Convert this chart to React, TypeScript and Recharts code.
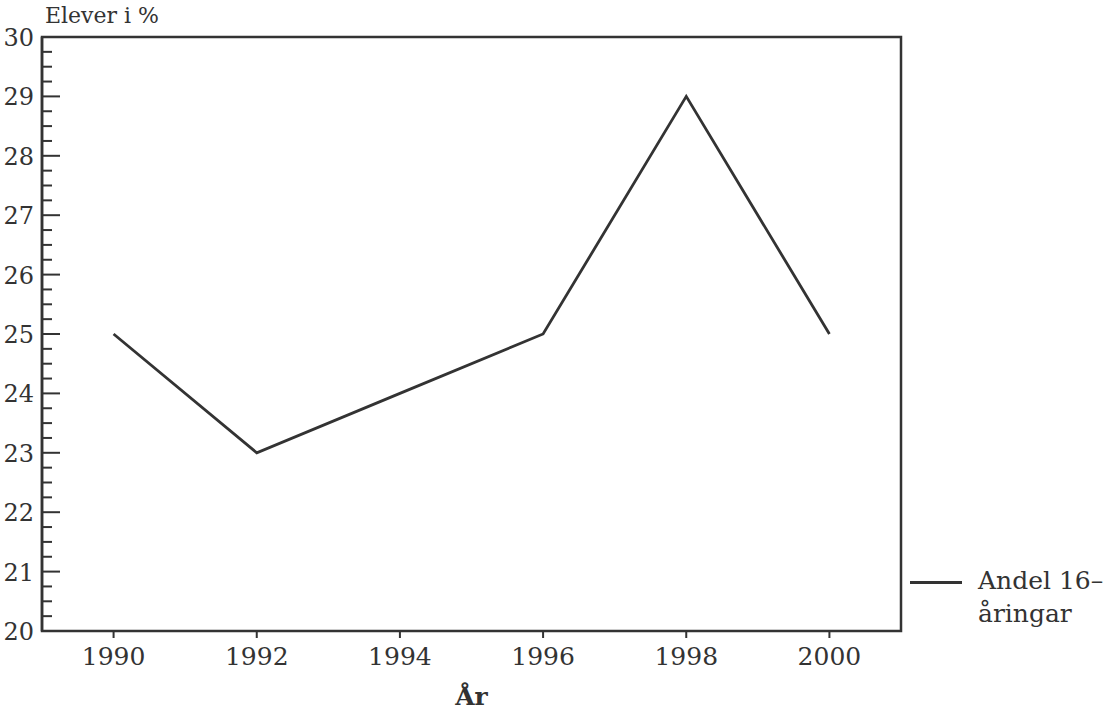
import { LineChart, Line, XAxis, YAxis, ReferenceArea } from "recharts";

const years = [1990, 1992, 1994, 1996, 1998, 2000];
const andel = [25, 23, 24, 25, 29, 25];
const yTicks = [20, 21, 22, 23, 24, 25, 26, 27, 28, 29, 30];
const seriesName = "Andel 16–åringar";

const data = years.map((y, i) => ({ year: y, andel: andel[i] }));

// quarter steps between the whole-number ticks
const allYTicks: number[] = [];
for (let v = 20; v <= 30; v += 0.25) allYTicks.push(v);

const FONT = "'DejaVu Serif', serif";
const INK = "#333";

function YTick(props: any) {
  const { x, y, payload } = props;
  const axisX = x + 8;
  const major = Number.isInteger(payload.value);
  return (
    <g>
      <line x1={axisX} x2={axisX + (major ? 18 : 10)} y1={y} y2={y} stroke={INK} strokeWidth={2} />
      {major && yTicks.includes(payload.value) && (
        <text x={x} y={y} dy={9} textAnchor="end" fontFamily={FONT} fontSize={24} fill={INK}>
          {payload.value}
        </text>
      )}
    </g>
  );
}

export default function App() {
  return (
    <div style={{ position: "absolute", left: 0, top: 0, width: 1116, height: 713, overflow: "hidden" }}>
      <LineChart width={1116} height={713} data={data} margin={{ top: 37, right: 215, left: 8, bottom: 42 }}>
        <ReferenceArea x1={1989} x2={2001} y1={20} y2={30} fill="none" stroke={INK} strokeWidth={2.5} ifOverflow="visible" />
        <XAxis
          dataKey="year"
          type="number"
          domain={[1989, 2001]}
          ticks={years}
          height={40}
          tickSize={7}
          tickMargin={9}
          stroke={INK}
          strokeWidth={2}
          tick={{ fontFamily: FONT, fontSize: 25, fill: INK }}
          label={{ value: "År", position: "bottom", offset: 16, fontFamily: FONT, fontSize: 25, fill: INK, fontWeight: "bold" }}
        />
        <YAxis
          type="number"
          domain={[20, 30]}
          ticks={allYTicks}
          interval={0}
          width={34}
          tickSize={0}
          tickMargin={8}
          tickLine={false}
          stroke={INK}
          strokeWidth={2.5}
          tick={<YTick />}
        />
        <Line
          type="linear"
          dataKey="andel"
          name={seriesName}
          stroke={INK}
          strokeWidth={2.8}
          dot={false}
          isAnimationActive={false}
        />
      </LineChart>
      <div style={{ position: "absolute", zIndex: 2, left: 45, top: 2, fontFamily: FONT, fontSize: 22, color: INK, lineHeight: "28px" }}>
        Elever i %
      </div>
      <div
        style={{
          position: "absolute",
          zIndex: 2,
          left: 910,
          top: 564,
          display: "flex",
          alignItems: "flex-start",
          fontFamily: FONT,
          fontSize: 25,
          color: INK,
          lineHeight: "33px",
        }}
      >
        <div style={{ width: 52, height: 3, background: INK, marginTop: 17, marginRight: 16 }} />
        <div>
          {seriesName.split("–")[0]}–
          <br />
          {seriesName.split("–")[1]}
        </div>
      </div>
    </div>
  );
}
